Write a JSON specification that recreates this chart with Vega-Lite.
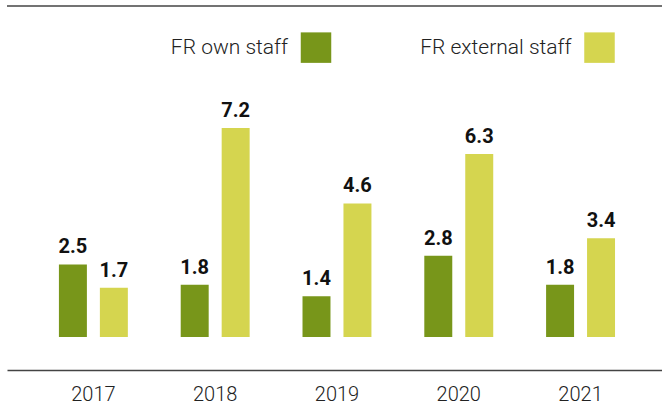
{
  "$schema": "https://vega.github.io/schema/vega-lite/v6.json",
  "width": 655,
  "height": 364,
  "autosize": {"type": "none"},
  "padding": {"left": 7, "top": 6, "right": 0, "bottom": 34},
  "background": "white",
  "config": {
    "view": {"stroke": null},
    "font": "Roboto",
    "axisX": {
      "domainColor": "#444444",
      "domainWidth": 1.5,
      "ticks": false,
      "tickSize": 0,
      "labelPadding": 14,
      "labelFontSize": 20,
      "labelFont": "Roboto",
      "labelFontWeight": 300,
      "labelColor": "#222222",
      "labelAngle": 0,
      "grid": false,
      "title": null
    }
  },
  "data": {
    "values": [
      {"year": "2017", "staff": "FR own staff", "value": 2.5},
      {"year": "2017", "staff": "FR external staff", "value": 1.7},
      {"year": "2018", "staff": "FR own staff", "value": 1.8},
      {"year": "2018", "staff": "FR external staff", "value": 7.2},
      {"year": "2019", "staff": "FR own staff", "value": 1.4},
      {"year": "2019", "staff": "FR external staff", "value": 4.6},
      {"year": "2020", "staff": "FR own staff", "value": 2.8},
      {"year": "2020", "staff": "FR external staff", "value": 6.3},
      {"year": "2021", "staff": "FR own staff", "value": 1.8},
      {"year": "2021", "staff": "FR external staff", "value": 3.4}
    ]
  },
  "layer": [
    {
      "mark": {"type": "bar"},
      "encoding": {
        "x": {"field": "year", "type": "nominal", "title": null, "scale": {"paddingInner": 0.434, "paddingOuter": 0.406, "align": 0.525}},
        "xOffset": {"field": "staff", "type": "nominal", "scale": {"domain": ["FR own staff", "FR external staff"], "paddingInner": 0.317, "paddingOuter": 0}},
        "y": {"field": "value", "type": "quantitative", "axis": null, "scale": {"domain": [-1.137, 11.402], "nice": false, "zero": false}},
        "color": {
          "field": "staff",
          "type": "nominal",
          "scale": {"domain": ["FR own staff", "FR external staff"], "range": ["#78961a", "#d5d54f"]},
          "legend": {
            "orient": "none",
            "legendX": 293.5,
            "legendY": 26,
            "direction": "horizontal",
            "title": null,
            "symbolType": "square",
            "symbolSize": 930,
            "symbolStrokeWidth": 0,
            "symbolOpacity": 1,
            "labelAlign": "right",
            "labelOffset": -43.5,
            "labelFontSize": 21,
            "labelFont": "Roboto",
            "labelFontWeight": 300,
            "labelColor": "#222222",
            "labelLimit": 300,
            "columnPadding": 88.5
          }
        }
      }
    },
    {
      "mark": {"type": "text", "baseline": "alphabetic", "dy": -11, "fontSize": 20, "fontWeight": "bold", "font": "Roboto", "color": "#111111"},
      "encoding": {
        "x": {"field": "year", "type": "nominal", "title": null},
        "xOffset": {"field": "staff", "type": "nominal"},
        "y": {"field": "value", "type": "quantitative", "axis": null},
        "text": {"field": "value", "type": "quantitative", "format": ".1f"}
      }
    },
    {
      "data": {"values": [{}]},
      "mark": {"type": "rule", "color": "#444444", "strokeWidth": 1.5},
      "encoding": {"y": {"datum": 11.402, "type": "quantitative"}}
    }
  ]
}
